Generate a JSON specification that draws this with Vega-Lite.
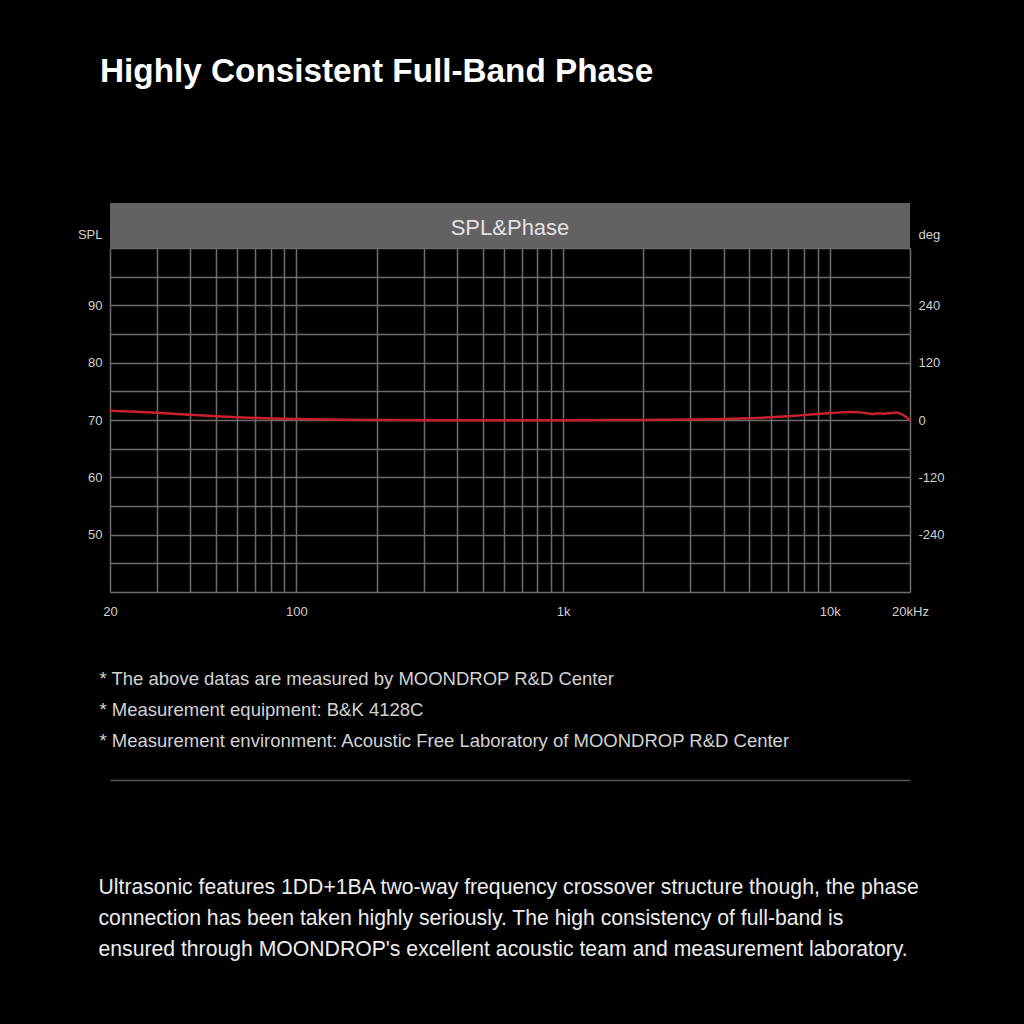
{
  "$schema": "https://vega.github.io/schema/vega-lite/v6.json",
  "width": 800,
  "height": 344,
  "autosize": {"type": "none"},
  "padding": {"left": 110, "top": 248, "right": 114, "bottom": 432},
  "background": "#000000",
  "config": {"view": {"stroke": null}, "font": "Liberation Sans"},
  "title": {
    "text": "Highly Consistent Full-Band Phase",
    "anchor": "start",
    "frame": "group",
    "orient": "top",
    "fontSize": 33.3,
    "fontWeight": "bold",
    "color": "#ffffff",
    "font": "Liberation Sans",
    "dx": -10,
    "baseline": "alphabetic",
    "offset": 88
  },
  "resolve": {"scale": {"y": "independent"}, "axis": {"x": "independent", "y": "independent"}},
  "layer": [
    {
      "data": {
        "values": [
          {"freq": 20, "spl": 71.6},
          {"freq": 25, "spl": 71.42},
          {"freq": 30, "spl": 71.25},
          {"freq": 40, "spl": 70.92},
          {"freq": 50, "spl": 70.66},
          {"freq": 63, "spl": 70.45},
          {"freq": 80, "spl": 70.27},
          {"freq": 100, "spl": 70.16},
          {"freq": 150, "spl": 70.05},
          {"freq": 200, "spl": 70.0},
          {"freq": 300, "spl": 69.97},
          {"freq": 500, "spl": 69.96},
          {"freq": 1000, "spl": 69.97},
          {"freq": 1500, "spl": 69.99},
          {"freq": 2000, "spl": 70.02},
          {"freq": 3000, "spl": 70.08},
          {"freq": 4000, "spl": 70.16},
          {"freq": 5000, "spl": 70.3},
          {"freq": 6000, "spl": 70.46},
          {"freq": 7000, "spl": 70.65},
          {"freq": 8000, "spl": 70.85},
          {"freq": 9000, "spl": 71.05},
          {"freq": 10000, "spl": 71.2},
          {"freq": 11000, "spl": 71.33},
          {"freq": 12000, "spl": 71.38},
          {"freq": 13000, "spl": 71.33},
          {"freq": 14000, "spl": 71.12},
          {"freq": 14500, "spl": 71.02},
          {"freq": 15000, "spl": 71.15},
          {"freq": 16000, "spl": 71.1},
          {"freq": 17000, "spl": 71.2},
          {"freq": 17800, "spl": 71.3},
          {"freq": 18500, "spl": 71.05},
          {"freq": 19200, "spl": 70.6},
          {"freq": 20000, "spl": 69.9}
        ]
      },
      "mark": {"type": "line", "color": "#c8202e", "strokeWidth": 2.5, "interpolate": "monotone"},
      "encoding": {
        "x": {
          "field": "freq",
          "type": "quantitative",
          "scale": {"type": "log", "domain": [20, 20000], "nice": false},
          "axis": {
            "orient": "bottom",
            "values": [20, 30, 40, 50, 60, 70, 80, 90, 100, 200, 300, 400, 500, 600, 700, 800, 900, 1000, 2000, 3000, 4000, 5000, 6000, 7000, 8000, 9000, 10000, 20000],
            "labelExpr": "datum.value == 20 ? '20' : datum.value == 100 ? '100' : datum.value == 1000 ? '1k' : datum.value == 10000 ? '10k' : datum.value == 20000 ? '20kHz' : ''",
            "grid": true,
            "gridColor": "#6b6b6b",
            "gridWidth": 1.5,
            "ticks": false,
            "domain": false,
            "labelColor": "#d0d0d0",
            "labelFontSize": 13,
            "labelPadding": 13,
            "labelFlush": false,
            "labelOverlap": false,
            "labelBound": false,
            "title": [
              "* The above datas are measured by MOONDROP R&D Center",
              "* Measurement equipment: B&K 4128C",
              "* Measurement environment: Acoustic Free Laboratory of MOONDROP R&D Center"
            ],
            "titleFontSize": 18.5,
            "titleFontWeight": "normal",
            "titleColor": "#d2d2d2",
            "titleAlign": "left",
            "titleAnchor": "start",
            "titleBaseline": "top",
            "titleX": -11,
            "titleY": 77,
            "titleLineHeight": 31
          }
        },
        "y": {
          "field": "spl",
          "type": "quantitative",
          "scale": {"domain": [40, 100], "nice": false, "zero": false},
          "axis": {
            "orient": "left",
            "values": [40, 45, 50, 55, 60, 65, 70, 75, 80, 85, 90, 95, 100],
            "labelExpr": "datum.value % 10 == 0 && datum.value >= 50 && datum.value <= 90 ? datum.label : ''",
            "grid": true,
            "gridColor": "#6b6b6b",
            "gridWidth": 1.5,
            "ticks": false,
            "domain": false,
            "labelColor": "#d0d0d0",
            "labelFontSize": 13,
            "labelPadding": 8,
            "labelOverlap": false,
            "labelBound": false,
            "labelFlush": false,
            "title": "SPL",
            "titleAngle": 0,
            "titleAlign": "right",
            "titleBaseline": "middle",
            "titleX": -8,
            "titleY": -14,
            "titleFontSize": 13,
            "titleFontWeight": "normal",
            "titleColor": "#d0d0d0"
          }
        }
      }
    },
    {
      "data": {"values": [{"panel": "SPL&Phase"}]},
      "mark": {"type": "rect", "color": "#646162"},
      "encoding": {
        "x": {
          "datum": 20,
          "type": "quantitative",
          "scale": {"type": "log", "domain": [20, 20000], "nice": false},
          "axis": {
            "orient": "bottom",
            "offset": 188,
            "labels": false,
            "ticks": false,
            "grid": false,
            "domain": true,
            "domainColor": "#555555",
            "domainWidth": 1.5,
            "title": [
              "Ultrasonic features 1DD+1BA two-way frequency crossover structure though, the phase",
              "connection has been taken highly seriously. The high consistency of full-band is",
              "ensured through MOONDROP's excellent acoustic team and measurement laboratory."
            ],
            "titleFontSize": 21.2,
            "titleFontWeight": "normal",
            "titleColor": "#ececec",
            "titleAlign": "left",
            "titleAnchor": "start",
            "titleBaseline": "top",
            "titleX": -12,
            "titleY": 96,
            "titleLineHeight": 31
          }
        },
        "x2": {"datum": 20000},
        "y": {
          "datum": 360,
          "type": "quantitative",
          "scale": {"domain": [-360, 360], "nice": false, "zero": false},
          "axis": {
            "orient": "right",
            "values": [-240, -120, 0, 120, 240],
            "labelExpr": "datum.value < 0 ? '-' + abs(datum.value) : datum.label",
            "grid": false,
            "ticks": false,
            "domain": false,
            "labelColor": "#d0d0d0",
            "labelFontSize": 13,
            "labelPadding": 8,
            "labelOverlap": false,
            "labelBound": false,
            "labelFlush": false,
            "title": "deg",
            "titleAngle": 0,
            "titleAlign": "left",
            "titleBaseline": "middle",
            "titleX": 8,
            "titleY": -14,
            "titleFontSize": 13,
            "titleFontWeight": "normal",
            "titleColor": "#d0d0d0"
          }
        },
        "y2": {"datum": 454.2}
      }
    },
    {
      "data": {"values": [{"panel": "SPL&Phase"}]},
      "mark": {"type": "text", "fontSize": 22, "color": "#e2e2e2", "align": "center", "baseline": "middle"},
      "encoding": {
        "text": {"field": "panel", "type": "nominal"},
        "x": {"datum": 632.5, "type": "quantitative", "scale": {"type": "log", "domain": [20, 20000], "nice": false}, "axis": null},
        "y": {"datum": 401, "type": "quantitative", "scale": {"domain": [-360, 360], "nice": false, "zero": false}, "axis": null}
      }
    }
  ]
}
